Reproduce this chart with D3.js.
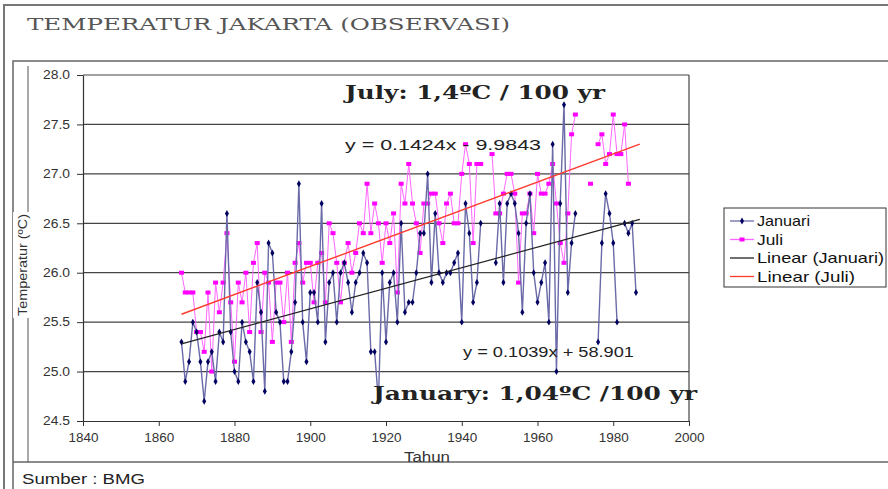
<!DOCTYPE html>
<html>
<head>
<meta charset="utf-8">
<script src="https://cdn.jsdelivr.net/npm/d3@7"></script>
<style>
  body { margin: 0; background: #fff; }
  svg { display: block; }
</style>
</head>
<body>
<svg></svg>
<script>
// data
const startYear = 1866;
const janValues = [
  25.3, 24.9, 25.1, 25.5, 25.4, 25.1, 24.7, 25.1, 25.2, 24.9,
  25.4, 25.3, 26.6, 25.4, 25.0, 24.9, 25.5, 25.3, 25.2, 24.9,
  25.9, 25.6, 24.8, 26.3, 26.2, 25.6, 25.5, 24.9, 24.9, 25.2,
  25.7, 26.9, 25.5, 25.1, 25.8, 25.8, 25.5, 26.7, 25.3, 25.9,
  26.0, 25.5, 26.0, 26.1, 25.9, 25.6, 25.9, 26.0, 26.2, 26.1,
  25.2, 25.2, 24.7, 26.0, 25.3, 25.9, 26.0, 25.5, 26.5, 25.6,
  25.7, 25.7, 26.0, 26.4, 26.4, 27.0, 25.9, 26.6, 26.0, 25.9,
  26.0, 26.0, 26.1, 26.2, 25.5, 26.7, 26.4, 25.7, 25.9, 26.5,
  null, null, null, 26.1, 26.7, 25.9, 26.7, 26.8, 26.7, 26.4,
  25.6, 26.5, 26.8, 26.0, 25.7, 25.9, 26.1, 25.5, 27.3, 25.0,
  26.7, 27.7, 25.8, 26.3, 26.6, null, null, null, null, null,
  25.3, 26.3, 26.8, 26.6, 26.3, 25.5, null, 26.5, 26.4, 26.5,
  25.8
];
const juliValues = [
  26.0, 25.8, 25.8, 25.8, 25.4, 25.4, 25.2, 25.8, 25.0, 25.9,
  25.6, 25.9, 26.4, 25.7, 25.1, 25.9, 25.7, 26.0, 25.4, 26.1,
  26.3, 25.4, 26.0, 25.9, 25.3, 25.9, 25.9, 25.5, 26.0, 25.3,
  26.1, 26.3, 25.9, 26.1, 26.1, 25.7, 26.1, 26.2, 25.7, 26.5,
  26.4, 26.1, 25.7, 26.1, 26.3, 26.0, 26.2, 26.5, 26.4, 26.9,
  26.4, 26.7, 26.5, 26.1, 26.5, 26.3, 26.6, 25.8, 26.9, 26.7,
  27.1, 26.7, 26.5, 26.2, 26.7, 26.7, 26.8, 26.8, 26.5, 26.3,
  26.7, 26.8, 26.5, 26.5, 27.0, 27.3, 27.1, 26.3, 27.1, 27.1,
  null, null, 27.2, 26.6, 26.6, 26.8, 27.0, 27.0, 26.8, 25.9,
  26.6, 26.6, 26.8, 26.4, 27.0, 26.8, 26.8, 26.9, 27.1, 26.7,
  26.3, 26.1, 26.6, 27.4, 27.6, null, null, null, 26.9, null,
  27.3, 27.4, 27.1, 27.2, 27.6, 27.2, 27.2, 27.5, 26.9
];
const janTrend = [[1866, 25.28], [1987, 26.54]];
const juliTrend = [[1866, 25.58], [1987, 27.30]];
const xTicks = [1840, 1860, 1880, 1900, 1920, 1940, 1960, 1980, 2000];
const yTicks = [24.5, 25.0, 25.5, 26.0, 26.5, 27.0, 27.5, 28.0];
const legendLabels = ["Januari", "Juli", "Linear (Januari)", "Linear (Juli)"];

const W = 888, H = 489;
const svg = d3.select('svg').attr('width', W).attr('height', H);
const sans = "Liberation Sans, Arial, sans-serif";
const wideSerif = "DejaVu Serif, serif";

svg.append('rect').attr('width', W).attr('height', H).attr('fill', '#fff');

// frames
svg.append('path')
  .attr('d', `M4,${H} V5 H${W}`)
  .attr('fill', 'none').attr('stroke', '#777').attr('stroke-width', 2);
svg.append('path')
  .attr('d', `M13,${H} V61 H${W}`)
  .attr('fill', 'none').attr('stroke', '#666').attr('stroke-width', 1.5);
svg.append('line')
  .attr('x1', 13).attr('x2', W).attr('y1', 462).attr('y2', 462)
  .attr('stroke', '#666').attr('stroke-width', 1.5);
svg.append('line')
  .attr('x1', 28).attr('x2', 28).attr('y1', 66).attr('y2', 462)
  .attr('stroke', '#555').attr('stroke-width', 1);

svg.append('text')
  .attr('x', 27).attr('y', 30)
  .attr('font-family', wideSerif).attr('font-size', 17)
  .attr('fill', '#555')
  .attr('textLength', 483).attr('lengthAdjust', 'spacingAndGlyphs')
  .text('TEMPERATUR JAKARTA (OBSERVASI)');

const x = d3.scaleLinear().domain([1840, 2000]).range([83, 689]);
const y = d3.scaleLinear().domain([24.5, 28]).range([421, 75]);

// grid
svg.append('g').selectAll('line')
  .data(yTicks.slice(1))
  .join('line')
  .attr('x1', x(1840)).attr('x2', x(2000))
  .attr('y1', d => y(d)).attr('y2', d => y(d))
  .attr('stroke', '#444').attr('stroke-width', 1.2);
svg.append('line')
  .attr('x1', x(2000)).attr('x2', x(2000))
  .attr('y1', y(28)).attr('y2', y(24.5))
  .attr('stroke', '#444').attr('stroke-width', 1.2);

// axes
const xAxis = svg.append('g')
  .attr('transform', `translate(0,${y(24.5)})`)
  .call(d3.axisBottom(x).tickValues(xTicks).tickFormat(d3.format('d')).tickSize(5).tickSizeOuter(0));
const yAxis = svg.append('g')
  .attr('transform', `translate(${x(1840)},0)`)
  .call(d3.axisLeft(y).tickValues(yTicks).tickFormat(d3.format('.1f')).tickSize(6).tickSizeOuter(0));
[xAxis, yAxis].forEach(g => {
  g.select('.domain').attr('stroke', '#333').attr('stroke-width', 1.2);
  g.selectAll('.tick line').attr('stroke', '#333');
  g.selectAll('.tick text').attr('font-family', sans).attr('font-size', 12).attr('fill', '#333')
    .attr('lengthAdjust', 'spacingAndGlyphs');
});
xAxis.selectAll('.tick text').attr('dy', '1.1em').attr('textLength', 30);
yAxis.selectAll('.tick text').attr('x', -13).attr('textLength', 27);

svg.append('text')
  .attr('x', 427).attr('y', 462).attr('text-anchor', 'middle')
  .attr('font-family', sans).attr('font-size', 14).attr('fill', '#333')
  .attr('textLength', 46).attr('lengthAdjust', 'spacingAndGlyphs')
  .text('Tahun');

// y axis title with white gap
const yTitle = svg.append('g').attr('transform', 'translate(22,265) rotate(-90)');
yTitle.append('rect').attr('x', -53).attr('y', -9).attr('width', 106).attr('height', 17).attr('fill', '#fff');
yTitle.append('text')
  .attr('text-anchor', 'middle').attr('dy', '0.35em')
  .attr('font-family', sans).attr('font-size', 13).attr('fill', '#333')
  .attr('textLength', 102).attr('lengthAdjust', 'spacingAndGlyphs')
  .text('Temperatur (ºC)');

// series
const janData = janValues.map((v, i) => [startYear + i, v]);
const juliData = juliValues.map((v, i) => [startYear + i, v]);
const line = d3.line().defined(d => d[1] != null).x(d => x(d[0])).y(d => y(d[1]));

svg.append('path').datum(juliData)
  .attr('d', line).attr('fill', 'none')
  .attr('stroke', '#ff66ff').attr('stroke-width', 1);
svg.append('g').selectAll('rect')
  .data(juliData.filter(d => d[1] != null))
  .join('rect')
  .attr('x', d => x(d[0]) - 2.5).attr('y', d => y(d[1]) - 2)
  .attr('width', 5).attr('height', 4)
  .attr('fill', '#ff00ff');

svg.append('path').datum(janData)
  .attr('d', line).attr('fill', 'none')
  .attr('stroke', '#6a6aa8').attr('stroke-width', 1.4);
svg.append('g').selectAll('path')
  .data(janData.filter(d => d[1] != null))
  .join('path')
  .attr('d', d3.symbol(d3.symbolDiamond, 14))
  .attr('transform', d => `translate(${x(d[0])},${y(d[1])})`)
  .attr('fill', '#000060');

// trend lines
const tline = d3.line().x(d => x(d[0])).y(d => y(d[1]));
svg.append('path').datum(janTrend).attr('d', tline)
  .attr('stroke', '#222').attr('stroke-width', 1.2).attr('fill', 'none');
svg.append('path').datum(juliTrend).attr('d', tline)
  .attr('stroke', '#ff3b2e').attr('stroke-width', 1.4).attr('fill', 'none');

// annotations
svg.append('text').attr('x', 345).attr('y', 150)
  .attr('font-family', sans).attr('font-size', 14).attr('fill', '#222')
  .attr('textLength', 196).attr('lengthAdjust', 'spacingAndGlyphs')
  .text('y = 0.1424x - 9.9843');
svg.append('text').attr('x', 463).attr('y', 357)
  .attr('font-family', sans).attr('font-size', 14).attr('fill', '#222')
  .attr('textLength', 171).attr('lengthAdjust', 'spacingAndGlyphs')
  .text('y = 0.1039x + 58.901');
svg.append('text').attr('x', 345).attr('y', 99)
  .attr('font-family', wideSerif).attr('font-size', 19).attr('font-weight', 'bold').attr('fill', '#222')
  .attr('textLength', 260).attr('lengthAdjust', 'spacingAndGlyphs')
  .text('July: 1,4ºC / 100 yr');
svg.append('text').attr('x', 373).attr('y', 400)
  .attr('font-family', wideSerif).attr('font-size', 19).attr('font-weight', 'bold').attr('fill', '#222')
  .attr('textLength', 324).attr('lengthAdjust', 'spacingAndGlyphs')
  .text('January: 1,04ºC /100 yr');

// legend
const lg = svg.append('g').attr('transform', 'translate(724,208)');
lg.append('rect').attr('width', 162).attr('height', 79)
  .attr('fill', '#fff').attr('stroke', '#333').attr('stroke-width', 1);
const items = lg.selectAll('g').data(legendLabels).join('g')
  .attr('transform', (d, i) => `translate(0,${13 + i * 18.5})`);
const legendColors = ['#6a6aa8', '#ff66ff', '#222', '#ff3b2e'];
items.append('line').attr('x1', 6).attr('x2', 30)
  .attr('stroke', (d, i) => legendColors[i]).attr('stroke-width', 1.3);
items.filter((d, i) => i === 0).append('path')
  .attr('d', d3.symbol(d3.symbolDiamond, 14)).attr('transform', 'translate(18,0)').attr('fill', '#000060');
items.filter((d, i) => i === 1).append('rect')
  .attr('x', 15.5).attr('y', -2).attr('width', 5).attr('height', 4).attr('fill', '#ff00ff');
const legendWidths = [53, 26, 127, 98];
items.append('text').attr('x', 33).attr('dy', '0.35em')
  .attr('font-family', sans).attr('font-size', 15).attr('fill', '#111')
  .attr('textLength', (d, i) => legendWidths[i]).attr('lengthAdjust', 'spacingAndGlyphs')
  .text(d => d);

svg.append('text').attr('x', 22).attr('y', 484)
  .attr('font-family', sans).attr('font-size', 15).attr('fill', '#222')
  .attr('textLength', 123).attr('lengthAdjust', 'spacingAndGlyphs')
  .text('Sumber : BMG');
</script>
</body>
</html>
